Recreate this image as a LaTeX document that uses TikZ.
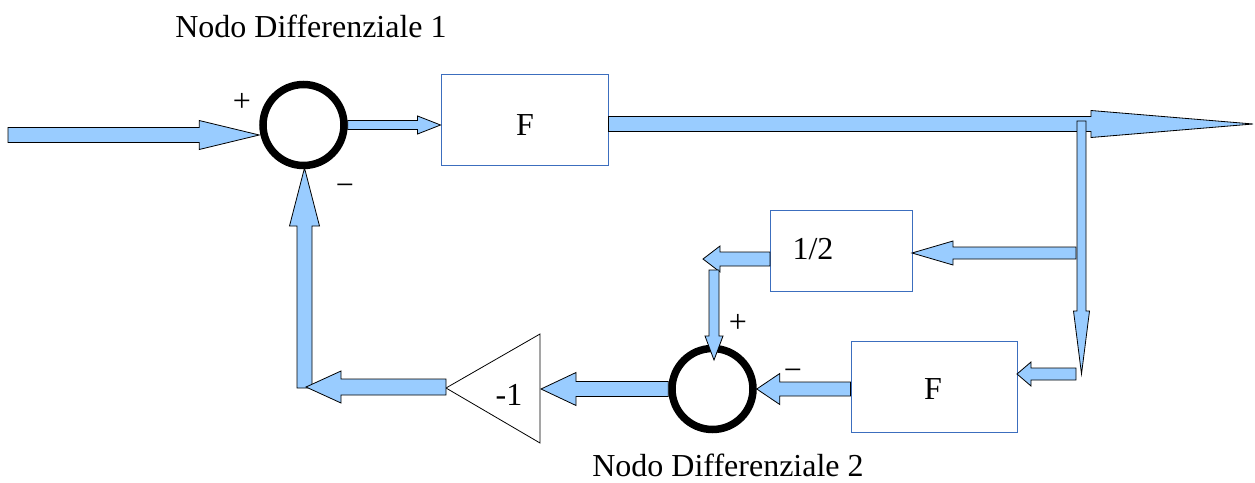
\documentclass[tikz,border=0pt]{standalone}
\usepackage{fontspec}
\setmainfont{Liberation Serif}
\usetikzlibrary{calc}
\definecolor{arrowfill}{RGB}{153,204,255}
\definecolor{boxblue}{RGB}{60,110,190}
% #1 start, #2 tip, #3 half shaft, #4 half head, #5 head length
\newcommand\blockarrow[5]{%
  \coordinate (tmpH) at ($(#2)!#5!(#1)$);
  \draw[barrow] ($(#1)!#3!90:(#2)$) -- ($(tmpH)!#3!90:(#2)$) -- ($(tmpH)!#4!90:(#2)$) -- (#2)
    -- ($(tmpH)!#4!-90:(#2)$) -- ($(tmpH)!#3!-90:(#2)$) -- ($(#1)!#3!-90:(#2)$) -- cycle;
}
\begin{document}
\begin{tikzpicture}[x=1pt,y=-1pt,
  barrow/.style={draw=black,line width=0.8pt,fill=arrowfill,line join=miter},
  blockbox/.style={draw=boxblue,line width=0.9pt,fill=white,inner sep=0pt},
  sumnode/.style={circle,draw=black,line width=7.5pt,fill=white,minimum size=81pt,inner sep=0pt},
  lbl/.style={font=\fontsize{32}{34}\selectfont,inner sep=0pt},
  tri/.style={draw=black,line width=0.8pt,fill=white}]
\useasboundingbox (0,0) rectangle (1255,482);

% blocks
\node[blockbox,minimum width=167pt,minimum height=91pt] (f1) at (524.5,119.5) {};
\node[blockbox,minimum width=142pt,minimum height=81pt] (half) at (841,250.5) {};
\node[blockbox,minimum width=166pt,minimum height=91pt] (f2) at (934,386.5) {};
\node[lbl,anchor=base] (f1t) at (525,135) {F};
\node[lbl,anchor=base] (halft) at (813,259) {1/2};
\node[lbl,anchor=base] (f2t) at (933,399) {F};

% summing nodes
\node[sumnode] (s1) at (303.5,125) {};
\node[sumnode] (s2) at (712.5,389) {};

% gain triangle
\coordinate (tritip) at (446,388);
\coordinate (triback) at (541,389);
\draw[tri] (tritip) -- (540,334) -- (540,443) -- cycle;
\node[lbl,anchor=base] (neg) at (509,405) {-1};

% free coordinates
\coordinate (in) at (8,135);
\coordinate (in2) at (s1.west |- in);
\coordinate (a1s) at (s1.east);
\coordinate (a1e) at (f1.west |- s1.east);
\coordinate (o1) at (f1.east |- 0,124);
\coordinate (out) at (1253,124);
\coordinate (brtop) at (1081.5,121);
\coordinate (brtip) at (1081.5,374);
\coordinate (b2) at (1076,253);
\coordinate (halfin) at (912,253);
\coordinate (halfout) at (770,259);
\coordinate (elbow) at (703,259);
\coordinate (down) at (714,270);
\coordinate (s2top) at (714,360);
\coordinate (b3) at (1076,374);
\coordinate (f2in) at (1017,374);
\coordinate (f2out) at (f2.west |- s2.east);
\coordinate (s2in) at (s2.east);
\coordinate (s2out) at (s2.west);
\coordinate (corner) at (304.5,388);
\coordinate (cornertip) at (306,387);
\coordinate (tritipb) at (446,387);
\coordinate (s1bot) at (304.5,168);

% connectors
\blockarrow{in}{in2}{7.5pt}{14.5pt}{60pt}
\blockarrow{a1s}{a1e}{4.5pt}{9pt}{23pt}
\blockarrow{o1}{out}{7.5pt}{13.5pt}{162pt}
\blockarrow{brtop}{brtip}{4.5pt}{8pt}{63pt}
\blockarrow{b2}{halfin}{6pt}{12pt}{41pt}
\blockarrow{halfout}{elbow}{7pt}{13pt}{17pt}
\blockarrow{down}{s2top}{5pt}{9pt}{24pt}
\blockarrow{b3}{f2in}{6pt}{12pt}{14pt}
\blockarrow{f2out}{s2in}{7pt}{15.5pt}{23pt}
\blockarrow{s2out}{triback}{7.5pt}{16.5pt}{35pt}
\blockarrow{corner}{s1bot}{7.5pt}{15pt}{58pt}
\blockarrow{tritipb}{cornertip}{8pt}{16pt}{35pt}

% signs
\node[lbl,anchor=base] (p1) at (242,111) {+};
\node[lbl,anchor=base] (m1) at (345,195) {−};
\node[lbl,anchor=base] (p2) at (738,332) {+};
\node[lbl,anchor=base] (m2) at (793,380) {−};

% titles
\node[lbl,anchor=base] (t1) at (311,37) {Nodo Differenziale 1};
\node[lbl,anchor=base] (t2) at (728,476) {Nodo Differenziale 2};
\end{tikzpicture}
\end{document}
